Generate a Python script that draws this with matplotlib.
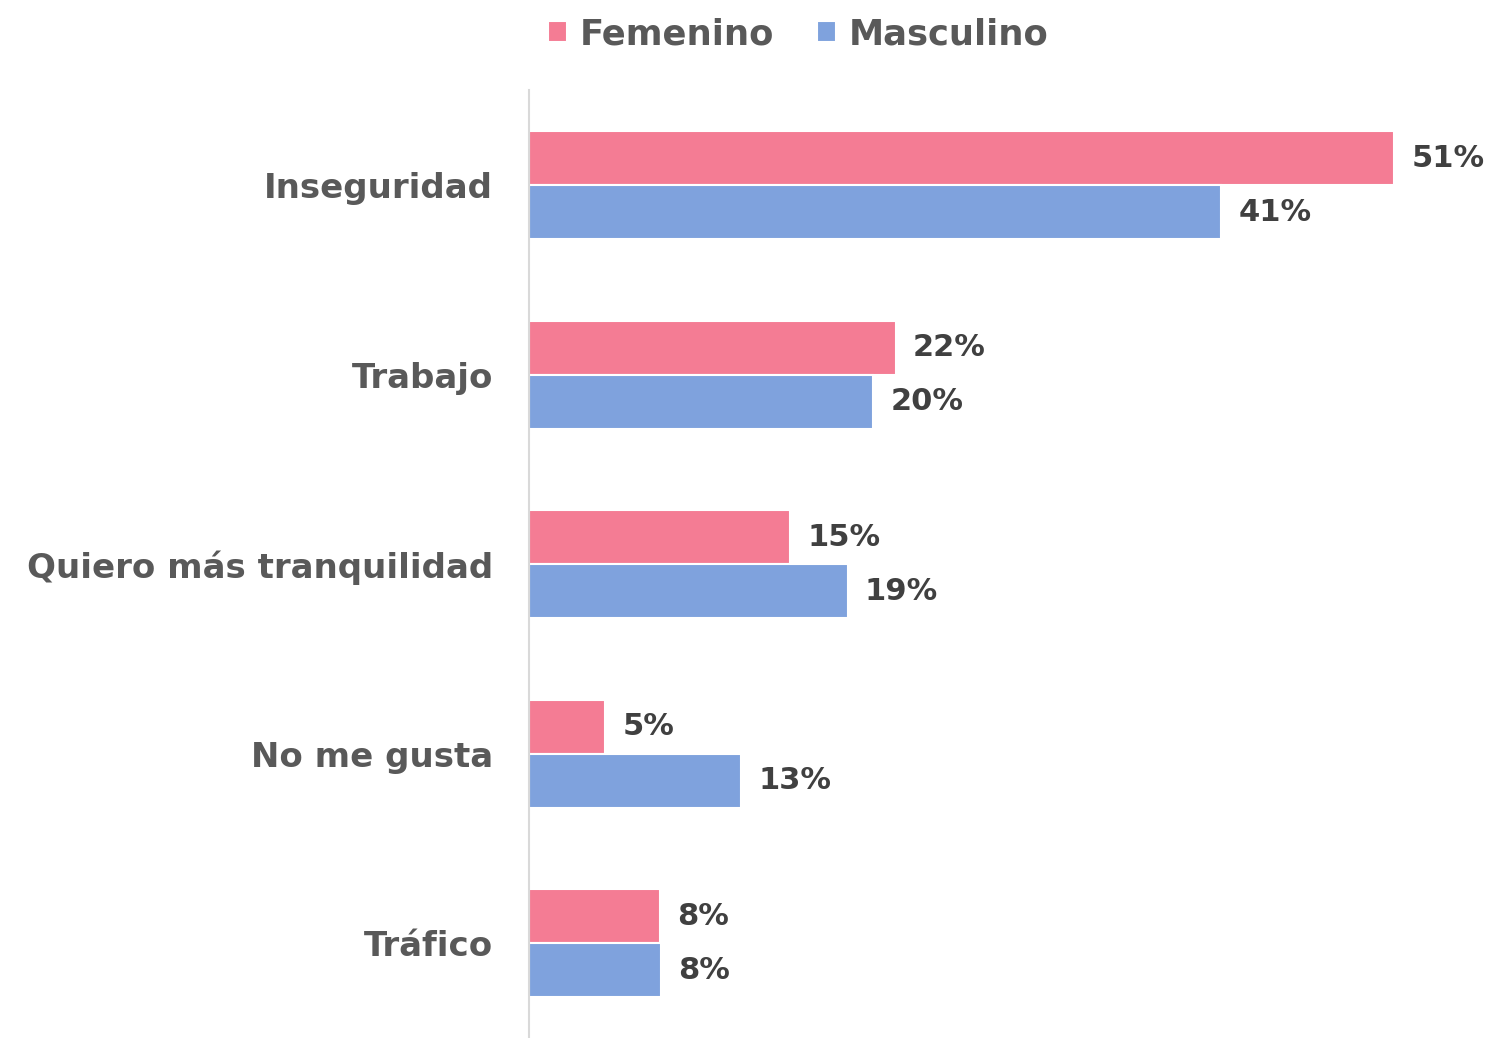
import numpy as np
import matplotlib.pyplot as plt

plt.rcParams['font.family'] = ['DejaVu Sans']

categorias = ['Inseguridad', 'Trabajo', 'Quiero más tranquilidad', 'No me gusta', 'Tráfico']
femenino = [51.0, 21.6, 15.4, 4.5, 7.7]
masculino = [40.8, 20.3, 18.8, 12.5, 7.8]
etiquetas_fem = ['51%', '22%', '15%', '5%', '8%']
etiquetas_mas = ['41%', '20%', '19%', '13%', '8%']

color_fem = '#F47C94'
color_mas = '#7FA2DD'

fig = plt.figure(figsize=(14.86, 10.38), dpi=100)
ax = fig.add_axes([0.356, 0.0, 0.644, 0.913])

y = np.arange(len(categorias))
h = 0.285
ax.barh(y - h / 2, femenino, height=h, color=color_fem, edgecolor='white', linewidth=1.5, label='Femenino')
ax.barh(y + h / 2, masculino, height=h, color=color_mas, edgecolor='white', linewidth=1.5, label='Masculino')

for i in range(len(categorias)):
    ax.text(femenino[i] + 1.0, y[i] - h / 2, etiquetas_fem[i], va='center', ha='left',
            fontsize=22, fontweight='bold', color='#404040')
    ax.text(masculino[i] + 1.0, y[i] + h / 2, etiquetas_mas[i], va='center', ha='left',
            fontsize=22, fontweight='bold', color='#404040')

ax.set_yticks(y)
ax.set_yticklabels(categorias, fontsize=24.5, fontweight='bold', color='#595959')
ax.tick_params(axis='y', length=0, pad=26)
ax.set_ylim(4.5, -0.5)
ax.set_xlim(0, 56.4)
ax.set_xticks([])
for s in ['top', 'right', 'bottom']:
    ax.spines[s].set_visible(False)
ax.spines['left'].set_color('#D9D9D9')
ax.spines['left'].set_linewidth(1.5)

fig.legend(loc='upper center', bbox_to_anchor=(0.537, 1.014), ncol=2, frameon=False,
           prop={'size': 25.5, 'weight': 'bold'}, labelcolor='#595959',
           handlelength=0.55, handleheight=0.55, handletextpad=0.35, columnspacing=1.2)

plt.savefig('out.png', dpi=100)
